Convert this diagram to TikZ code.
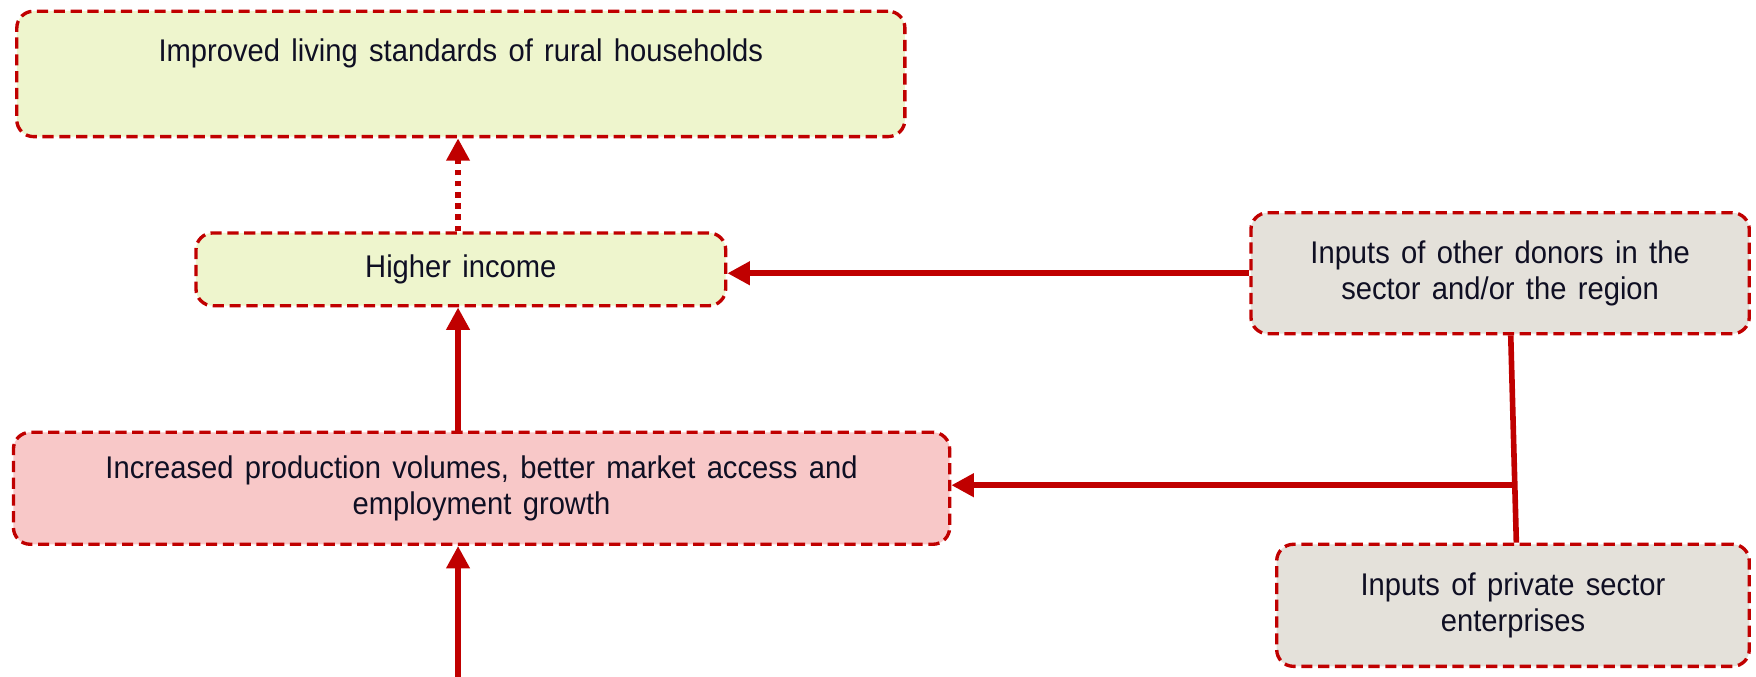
\documentclass[tikz,border=0pt]{standalone}
\usepackage{fontspec}
\setmainfont{Liberation Sans}[FakeStretch=0.93, WordSpace=1.4]
\usetikzlibrary{arrows.meta,calc}
\definecolor{dred}{RGB}{192,0,0}
\definecolor{yfill}{RGB}{238,245,205}
\definecolor{gfill}{RGB}{228,225,218}
\definecolor{pfill}{RGB}{248,200,200}
\definecolor{txt}{RGB}{15,15,35}
\begin{document}
\begin{tikzpicture}[x=0.5pt,y=-0.5pt,
  box/.style={draw=dred, line width=1.5pt, dash pattern=on 5pt off 2.5pt,
    rounded corners=7.5pt, align=center, font=\fontsize{14pt}{16pt}\selectfont,
    text=txt, inner sep=0pt},
  conn/.style={draw=dred, line width=2.5pt},
  arr/.style={conn, -{Triangle[length=10pt,width=10pt]}},
  dotarr/.style={draw=dred, line width=2.5pt, dash pattern=on 2.5pt off 2.5pt,
    -{Triangle[length=10pt,width=10pt]}}]
\useasboundingbox (0,0) rectangle (1568,604.5);
\node[box, fill=yfill, minimum width=396.5pt, minimum height=56pt, text height=10pt, text depth=21pt]
  (top) at (411.5,66) {Improved living standards of rural households};
\node[box, fill=yfill, minimum width=236.5pt, minimum height=32.5pt]
  (higher) at (411.5,240.5) {Higher income};
\node[box, fill=gfill, minimum width=222.5pt, minimum height=54pt]
  (donors) at (1339.5,244) {Inputs of other donors in the\\sector and/or the region};
\node[box, fill=pfill, minimum width=418pt, minimum height=50pt]
  (incr) at (430,436) {Increased production volumes, better market access and\\employment growth};
\node[box, fill=gfill, minimum width=211pt, minimum height=54.5pt]
  (priv) at (1351,540.5) {Inputs of private sector\\enterprises};
\coordinate (start) at (409,604.5);
\coordinate (dsouth) at ([xshift=4.75pt]donors.south);
\coordinate (pnorth) at ([xshift=1.5pt]priv.north);
\coordinate (j) at ($(dsouth)!0.723!(pnorth)$);
\draw[dotarr] ([xshift=-1.25pt]higher.north) -- ([xshift=-1.25pt]top.south);
\draw[arr] ([xshift=-1.25pt]incr.north -| higher.north) -- ([xshift=-1.25pt]higher.south);
\draw[arr] (start) -- (start |- incr.south);
\draw[arr] (donors.west) -- (donors.west -| higher.east);
\draw[conn] (dsouth) -- (pnorth);
\draw[arr] (j) -- (j -| incr.east);
\end{tikzpicture}
\end{document}
